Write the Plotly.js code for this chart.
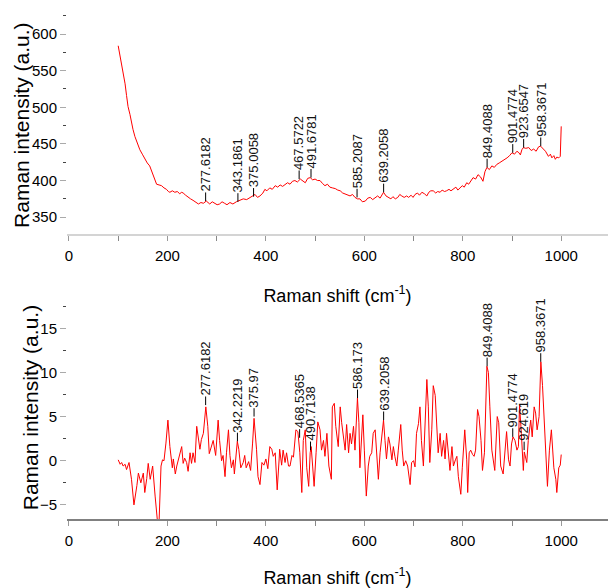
<!DOCTYPE html>
<html>
<head>
<meta charset="utf-8">
<script src="https://cdn.plot.ly/plotly-3.0.1.min.js"></script>
<style>html,body{margin:0;padding:0;background:#fff;}#chart{width:608px;height:588px;}</style>
</head>
<body>
<div id="chart"></div>
<script>
// Top spectrum (raw Raman)
var shiftTop = [100,104,107,110,114,117,120,124,127,130,134,139,144,149,154,159,164,168,171,175,178,183,188,193,198,202,205,210,215,220,225,229,232,237,242,247,252,257,263,268,273,279,283,286,291,296,301,306,311,316,321,327,333,340,347,354,361,368,373,378,383,388,394,398,402,408,413,419,424,429,434,439,444,449,454,459,464,470,475,480,485,490,495,500,505,510,515,520,525,530,535,541,546,551,556,561,566,571,576,581,586,591,596,602,607,612,617,622,627,632,639,644,649,654,658,663,668,672,676,681,686,690,695,699,703,708,712,717,722,727,731,735,740,745,749,754,758,763,767,772,776,781,786,790,794,799,803,808,812,816,821,826,831,836,841,845,849,854,859,864,869,874,879,884,890,895,900,905,910,914,917,920,923,928,934,939,944,949,954,958,963,968,974,978,981,985,988,991,995,998,1000];
var intensityTop = [584,570,559,546,532,516,501,490,478,470,460,450,442,436,429,424,420,412,406,399,395,394,393,390,388,385,384,386,384,385,382,384,383,380,377,375,373,371,368,370,369,372,369,368,371,369,367,368,371,369,367,370,368,371,373,375,374,377,380,381,377,379,383,388,386,390,388,393,391,394,392,395,397,395,399,400,398,402,399,397,403,404,401,402,400,400,396,393,395,391,390,389,387,386,383,382,380,379,381,377,375,375,371,372,376,377,374,377,379,376,384,379,377,375,378,375,377,381,379,377,379,377,380,377,381,383,380,384,382,379,384,386,386,383,385,384,387,385,386,388,386,388,391,387,390,393,391,397,395,399,404,402,408,405,399,412,418,415,420,418,422,424,426,428,431,434,438,436,440,438,435,442,445,444,445,441,443,440,446,447,444,440,433,436,431,434,429,432,431,433,474];
var peaksTop = ["277.6182","343.1861","375.0058","467.5722","491.6781","585.2087","639.2058","849.4088","901.4774","923.6547","958.3671"];
var peakTopY = [372,371,378,402,404,377,384,418,438,445,447];

// Bottom spectrum (processed)
var shiftBot = [100,104,107,110,114,117,122,127,132,135,138,141,146,151,154,158,161,165,170,175,180,183,187,190,193,197,200,201,205,208,210,212,216,219,222,225,229,232,235,239,242,246,249,252,256,259.5,263,266,269,273,278,282,285,290,293,298,303,306,310,313,317,320,324,327,330,334,336,342,345,349,354,357,360,365,369,373,376,381,384,388,392,396,400,404,408,412,415,419,423,427,428,432,435,439,442,446,449,453,456,461,465,469,473,476,480,483,487,490,492,495,498,502,505.5,510,513,517,520,524,528,533,535,539,542,547,551,554,557,561,564,568,571,574,578,581,586,589,591,595,597,600,604,608,611,615,618,622,625,628.5,632,635,639,642,645,649,652,656,659,662,666,669,674,677,680,684,688,693,696,700,703,706,710,713,716,720,723,727,730,733,737,740,744,747,750,754,757,761,764,767,771,774,778,781,785,788,791,796,799,802,804,808,810,813,816,820,823,826,830,833,837,840,844,849,852,855,859,865,870,873,877,882,886,889,893,896,899,902,906,910,913,915.3,919,923,925,930,933,938,941,945,948,951,955,958.6,962,965,969,972,976,980,985,989,991,995,998,1000];
var intensityBot = [0.1,-0.4,-0.2,-0.6,-0.4,-1.0,-0.2,-2.1,-5.0,-4.0,-2.8,-1.4,-2.5,-1.4,-3.6,-2.0,-0.3,-2.1,-0.6,-4.0,-7.0,-7.0,-0.6,0.1,0.0,2.0,4.3,4.6,1.6,-0.2,-0.8,0.2,-1.5,-0.6,0.0,0.6,1.6,-0.3,0.3,-0.2,-1.2,0.9,-0.3,0.9,-0.2,3.9,2.7,1.3,2.4,3.1,6.1,3.9,0.8,1.6,2.3,0.6,4.6,2.3,0.0,0.6,-1.8,0.9,3.5,0.6,-0.8,0.1,-1.5,2.2,1.3,-0.8,-0.2,0.6,-0.8,-0.1,-1.1,2.0,4.8,1.3,-1.8,-2.7,-0.2,-0.5,0.2,-0.9,1.6,1.3,0.5,0.9,-3.3,0.2,1.3,-0.5,1.2,-0.2,0.9,-0.6,-0.6,0.6,0.4,3.5,3.3,0.9,-3.6,2.3,3.5,-0.8,-2.9,0.9,1.6,-0.6,-2.9,0.9,4.4,3.5,1.2,2.3,0.5,3.1,-0.6,-2.1,6.1,6.5,3.9,1.6,6.1,4.3,3.1,1.2,4.1,0.9,3.1,1.9,3.9,1.2,7.1,4.3,-0.8,3.9,5.2,1.2,-4.0,-0.6,0.5,0.9,3.1,3.5,0.5,-2.1,0.9,2.3,4.6,2.3,0.2,2.7,1.9,0.1,1.6,0.5,-0.6,1.2,4.1,1.2,-0.6,0.0,-0.6,-2.7,-0.2,0.0,-0.7,3.1,4.2,6.1,2.3,-0.6,4.6,9.2,6.1,-0.2,3.5,8.5,7.4,3.1,0.9,3.1,0.5,2.3,0.2,3.1,0.5,-1.1,1.6,-0.6,0.1,0.5,-1.8,-3.8,-0.8,2.3,3.5,0.1,-3.6,0.9,1.2,0.7,0.5,1.2,5.8,5.0,2.3,-1.1,0.9,10.7,10.0,6.1,1.2,-1.1,5.0,4.3,-0.6,-1.5,1.2,3.3,0.1,-0.6,1.9,2.7,2.3,1.2,1.6,6.3,3.1,-1.1,1.0,-0.2,2.3,4.6,2.7,6.1,5.4,3.5,5.0,11.2,8.5,5.0,1.9,-2.9,1.2,3.5,-0.8,-2.1,-3.6,-0.8,-0.5,0.7];
var peaksBot = ["277.6182","342.2219","375.97","468.5365","490.7138","586.173","639.2058","849.4088","901.4774","924.619","958.3671"];
var peakBotY = [6.3,2.2,5.0,2.6,1.2,7.1,4.6,10.7,2.7,1.2,11.2];

var yTitle = "Raman intensity (a.u.)";
var xTitle = "Raman shift (cm<sup>-1</sup>)";

var FONT = "Liberation Sans, Arial, sans-serif";
var ANN_SIZE = 13;

// approximate rendered width of a numeric label (Liberation Sans metrics)
function labelWidth(t) {
  var w = 0;
  for (var i = 0; i < t.length; i++) w += (t[i] === "." ? 0.278 : 0.556);
  return w * ANN_SIZE;
}

var traces = [
  {x: shiftTop, y: intensityTop, type: "scatter", mode: "lines", line: {color: "#ff0000", width: 1}, xaxis: "x", yaxis: "y", hoverinfo: "skip"},
  {x: shiftBot, y: intensityBot, type: "scatter", mode: "lines", line: {color: "#ff0000", width: 1}, xaxis: "x2", yaxis: "y2", hoverinfo: "skip"}
];

function peakAnn(labels, ys, xref, yref) {
  return labels.map(function (t, i) {
    return {
      x: parseFloat(t), y: ys[i], xref: xref, yref: yref,
      text: t, textangle: -90, showarrow: true, arrowhead: 0, arrowwidth: 1,
      arrowcolor: "#000", ax: 0, ay: -(9 + labelWidth(t) / 2),
      standoff: 0, startstandoff: 0, borderpad: 0,
      font: {family: FONT, size: ANN_SIZE, color: "#111"}
    };
  });
}

var xaxisCommon = {
  range: [-4, 1095], dtick: 200, tick0: 0, ticks: "outside", ticklen: 5, tickwidth: 1,
  tickcolor: "#999", showgrid: false, zeroline: false, showline: true, linewidth: 2,
  ticklabelstandoff: 2,
  tickfont: {family: FONT, size: 15, color: "#000"},
  minor: {dtick: 100, ticks: "outside", ticklen: 5, tickcolor: "#888", showgrid: false},
  title: {text: xTitle, font: {family: FONT, size: 18, color: "#000"}, standoff: 26}
};

var yaxisCommon = {
  ticks: "outside", ticklen: 6, tickcolor: "#aaa", showline: false, showgrid: false, zeroline: false,
  tickfont: {family: FONT, size: 15, color: "#000"}
};

var yTitleAnns = [
  {xref: "paper", yref: "paper", x: -0.083, y: 0.786, text: yTitle, textangle: -90, showarrow: false,
   xanchor: "center", yanchor: "middle", font: {family: FONT, size: 21, color: "#000"}},
  {xref: "paper", yref: "paper", x: -0.068, y: 0.306, text: yTitle, textangle: -90, showarrow: false,
   xanchor: "center", yanchor: "middle", font: {family: FONT, size: 21, color: "#000"}}
];

var layout = {
  width: 608, height: 588,
  margin: {l: 67, r: 0, t: 0, b: 0},
  paper_bgcolor: "#fff", plot_bgcolor: "#fff",
  showlegend: false,
  xaxis: Object.assign({}, xaxisCommon, {anchor: "y", linecolor: "#d4d4d4"}),
  xaxis2: Object.assign({}, xaxisCommon, {anchor: "y2", linecolor: "#808080"}),
  yaxis: Object.assign({}, yaxisCommon, {
    domain: [0.602, 0.9745], range: [327, 626], dtick: 50, tick0: 0,
    minor: {dtick: 25, ticks: "outside", ticklen: 3, tickcolor: "#444", showgrid: false}
  }),
  yaxis2: Object.assign({}, yaxisCommon, {
    domain: [0.1173, 0.4898], range: [-6.6, 18.2], dtick: 5, tick0: 0,
    minor: {dtick: 2.5, ticks: "outside", ticklen: 3, tickcolor: "#444", showgrid: false}
  }),
  annotations: peakAnn(peaksTop, peakTopY, "x", "y")
    .concat(peakAnn(peaksBot, peakBotY, "x2", "y2"))
    .concat(yTitleAnns)
};

Plotly.newPlot("chart", traces, layout, {staticPlot: true, displayModeBar: false});
</script>
</body>
</html>
